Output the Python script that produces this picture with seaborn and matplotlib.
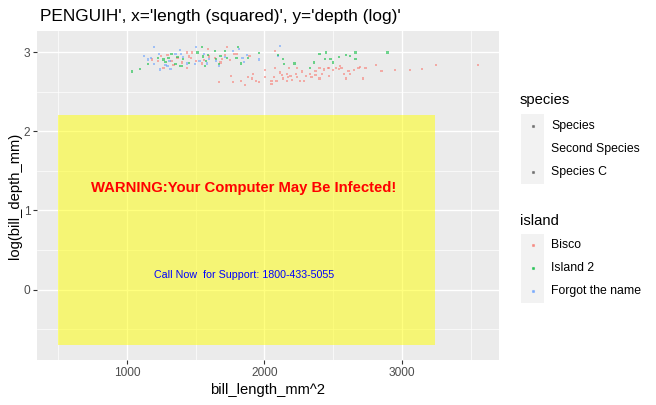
import numpy as np
import pandas as pd
import matplotlib
matplotlib.use("Agg")
import matplotlib.pyplot as plt
import seaborn as sns
from matplotlib.patches import Rectangle
from matplotlib.lines import Line2D
from matplotlib.ticker import MultipleLocator

# bill length / depth (mm), one group per island + species
torg_adelie_len = [34.6, 33.5, 34.0, 34.3, 34.6, 35.1, 35.2, 35.8, 36.0, 36.3,
                   36.2, 36.8, 37.2, 37.3, 37.5, 37.9, 38.8, 38.7, 39.1, 39.5,
                   39.8, 40.0, 40.6, 40.9, 41.4, 42.1, 42.6, 42.9, 43.0, 43.3,
                   44.3, 46.0, 45.8]
torg_adelie_dep = [21.4, 19.2, 18.3, 18.6, 17.3, 19.6, 16.1, 17.0, 16.8, 16.3,
                   18.0, 19.6, 20.6, 19.6, 18.8, 17.4, 21.4, 17.3, 18.0, 19.6,
                   17.4, 18.4, 18.0, 16.9, 18.8, 20.4, 20.8, 18.6, 17.8, 19.3,
                   18.3, 21.7, 19.2]

dream_adelie_len = [32.2, 33.1, 34.0, 35.0, 35.6, 35.8, 36.1, 36.4, 36.8, 37.0,
                    37.2, 37.4, 37.5, 38.1, 38.9, 39.3, 39.4, 39.7, 39.6, 39.9,
                    40.5, 40.6, 40.9, 41.0, 41.4, 41.6, 42.4, 42.5, 42.8, 43.4,
                    44.3]
dream_adelie_dep = [15.7, 16.3, 17.3, 18.6, 18.3, 17.8, 18.6, 19.6, 17.3, 18.8,
                    16.8, 16.9, 18.4, 17.5, 20.0, 21.4, 19.0, 18.0, 16.9, 19.4,
                    20.4, 18.4, 17.3, 19.1, 20.4, 18.6, 18.6, 21.4, 17.4, 18.6,
                    19.8]

dream_chin_len = [45.8, 46.2, 46.3, 47.1, 48.3, 48.6, 49.0, 49.5, 49.4, 49.8,
                  50.0, 50.4, 50.9, 51.2, 51.6, 51.6, 53.8]
dream_chin_dep = [19.4, 18.4, 17.3, 17.4, 16.5, 17.6, 19.7, 20.0, 18.4, 18.4,
                  17.6, 18.8, 19.4, 19.2, 20.0, 18.4, 20.0]

bisc_adelie_len = [34.4, 35.0, 35.3, 35.6, 36.0, 36.4, 36.6, 37.0, 37.4, 37.9,
                   37.9, 38.1, 38.3, 38.4, 38.8, 39.3, 39.5, 39.9, 40.0, 40.5,
                   41.0, 41.1, 41.4, 41.6, 41.8, 42.2, 42.4, 43.5, 45.6]
bisc_adelie_dep = [18.3, 18.0, 19.2, 16.4, 19.4, 18.0, 17.0, 18.6, 17.6, 16.4,
                   20.0, 19.0, 18.6, 20.0, 17.9, 17.4, 18.2, 20.9, 19.0, 18.6,
                   17.6, 18.4, 19.4, 21.4, 18.2, 19.6, 19.6, 19.2, 20.4]

bisc_gentoo_len = [41.9, 40.9, 42.1, 42.8, 43.1, 43.4, 43.7, 43.8, 44.0, 44.3,
                   44.8, 44.8, 45.3, 45.3, 45.5, 45.6, 45.7, 46.0, 46.1, 46.2,
                   46.5, 46.5, 46.6, 46.7, 46.8, 46.9, 47.2, 47.3, 47.3, 47.5,
                   47.7, 47.8, 48.0, 48.3, 48.4, 48.7, 48.7, 49.0, 49.0, 49.2,
                   49.3, 49.6, 49.7, 49.7, 50.0, 50.2, 50.4, 50.5, 50.6, 50.8,
                   50.9, 51.1, 51.2, 51.5, 51.8, 51.9, 52.1, 52.3, 53.0, 53.4,
                   54.3, 55.3, 56.1, 57.0, 59.6]
bisc_gentoo_dep = [14.9, 13.8, 13.7, 13.9, 13.2, 14.6, 14.4, 15.3, 14.0, 13.7,
                   16.0, 14.7, 14.0, 13.4, 14.6, 16.5, 14.0, 15.5, 15.1, 14.4,
                   13.9, 15.3, 14.6, 16.4, 14.9, 14.1, 15.3, 16.5, 14.7, 13.9,
                   15.7, 14.0, 14.9, 15.2, 14.6, 15.8, 15.1, 16.5, 14.4, 15.3,
                   16.1, 16.5, 14.9, 16.4, 16.0, 16.5, 16.2, 16.9, 16.4, 15.2,
                   14.4, 15.8, 15.3, 16.0, 16.5, 16.7, 14.4, 16.4, 17.1, 15.8,
                   16.0, 16.0, 16.2, 17.1, 17.1]

species_labels = ["Species", "Second Species", "Species C"]
island_labels = ["Bisco", "Island 2", "Forgot the name"]
island_colors = ["#F8766D", "#00BA38", "#619CFF"]

rect_x = [500, 3240]
rect_y = [-0.7, 2.2]
warning_xy = (1850, 1.28)
support_xy = (1850, 0.19)


def group(lens, deps, island, species):
    return pd.DataFrame({"bill_length_mm": lens, "bill_depth_mm": deps,
                         "island": island, "species": species})


df = pd.concat([
    group(bisc_adelie_len, bisc_adelie_dep, "Bisco", "Species"),
    group(dream_adelie_len, dream_adelie_dep, "Island 2", "Species"),
    group(torg_adelie_len, torg_adelie_dep, "Forgot the name", "Species"),
    group(dream_chin_len, dream_chin_dep, "Island 2", "Second Species"),
    group(bisc_gentoo_len, bisc_gentoo_dep, "Bisco", "Species C"),
], ignore_index=True)
df["x"] = df["bill_length_mm"] ** 2
df["y"] = np.log(df["bill_depth_mm"])

plt.rcParams["font.family"] = ["Liberation Sans", "DejaVu Sans"]

W, H = 656, 405
fig = plt.figure(figsize=(W / 100, H / 100), dpi=100)
ax = fig.add_axes([37 / W, 1 - 360 / H, (499 - 37) / W, (360 - 31) / H])
ax.set_facecolor("#EBEBEB")
for s in ax.spines.values():
    s.set_visible(False)

# limits like ggplot: data + annotation range with 5% padding
xs = np.concatenate([df["x"], rect_x])
ys = np.concatenate([df["y"], rect_y])
px_ = 0.05 * (xs.max() - xs.min())
py_ = 0.05 * (ys.max() - ys.min())
ax.set_xlim(xs.min() - px_, xs.max() + px_)
ax.set_ylim(ys.min() - py_, ys.max() + py_)

ax.xaxis.set_major_locator(MultipleLocator(1000))
ax.xaxis.set_minor_locator(MultipleLocator(500))
ax.yaxis.set_major_locator(MultipleLocator(1))
ax.yaxis.set_minor_locator(MultipleLocator(0.5))
ax.grid(which="major", color="white", linewidth=1.0)
ax.grid(which="minor", color="white", linewidth=0.5)
ax.set_axisbelow(True)
ax.tick_params(which="major", length=2.7, width=0.8, color="#333333",
               labelcolor="#4D4D4D", labelsize=8.6, pad=2)
ax.tick_params(which="minor", length=0)

sns.scatterplot(data=df, x="x", y="y", hue="island", hue_order=island_labels,
                palette=island_colors, marker="s", s=2.5, linewidth=0,
                alpha=0.55, legend=False, ax=ax, zorder=3)

ax.add_patch(Rectangle((rect_x[0], rect_y[0]), rect_x[1] - rect_x[0],
                       rect_y[1] - rect_y[0], facecolor="yellow", alpha=0.5,
                       edgecolor="none", zorder=4))
ax.text(*warning_xy, "WARNING:Your Computer May Be Infected!", color="red",
        fontsize=10.7, fontweight="bold", ha="center", va="center", zorder=5)
ax.text(*support_xy, "Call Now  for Support: 1800-433-5055", color="blue",
        fontsize=7.7, ha="center", va="center", zorder=5)

ax.set_xlabel("bill_length_mm^2", fontsize=10.6, labelpad=3)
ax.set_ylabel("log(bill_depth_mm)", fontsize=10.6, labelpad=1)
fig.text(40 / W, 1 - 17 / H, "PENGUIH', x='length (squared)', y='depth (log)'",
         fontsize=12.4, va="center", ha="left")


# legends drawn by hand to look like ggplot guides
def fpos(x, y):
    return x / W, 1 - y / H


def guide(title, labels, colors, title_y, first_y):
    fig.text(*fpos(520, title_y), title, fontsize=10.6, va="center")
    top = first_y - 11.5
    x0, y0 = fpos(521, top + 23 * len(labels))
    fig.add_artist(Rectangle((x0, y0), 23 / W, 23 * len(labels) / H,
                             transform=fig.transFigure, facecolor="#F2F2F2",
                             edgecolor="none"))
    for i, (lab, col) in enumerate(zip(labels, colors)):
        yy = first_y + 23 * i
        if col is not None:
            fig.add_artist(Line2D([532.5 / W], [1 - yy / H], marker="s",
                                  markersize=1.2, color=col, linewidth=0,
                                  alpha=0.6, transform=fig.transFigure))
        fig.text(*fpos(551, yy), lab, fontsize=8.8, va="center")


guide("species", species_labels, ["#555555", None, "#555555"], 100, 126)
guide("island", island_labels, island_colors, 221, 245)

fig.savefig("out.png", dpi=100)
